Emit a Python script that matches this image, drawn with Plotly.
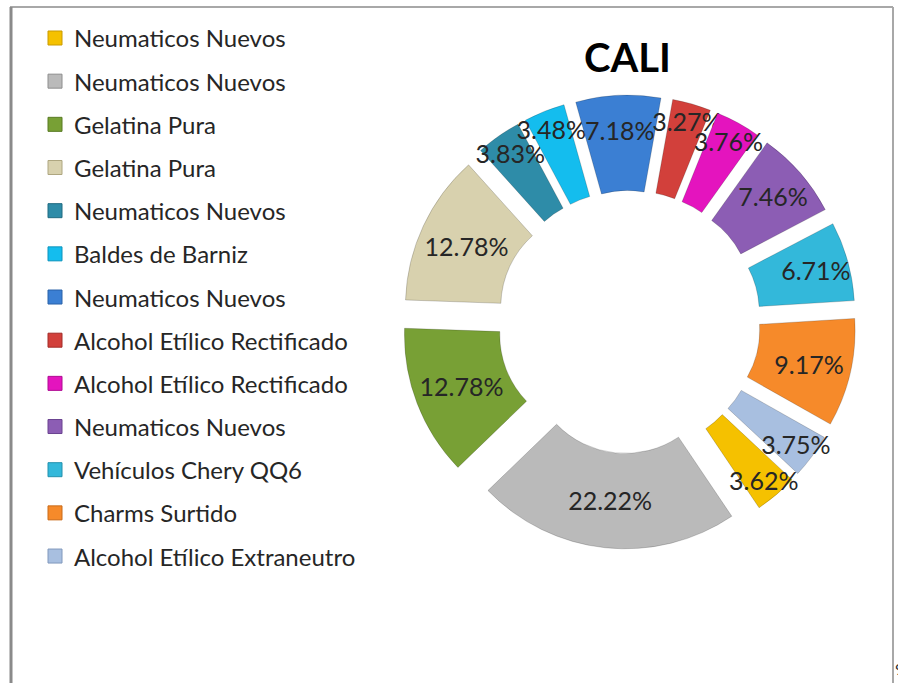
import plotly.graph_objects as go

W, H = 898, 683

categories = [
    "Neumaticos Nuevos",
    "Neumaticos Nuevos",
    "Gelatina Pura",
    "Gelatina Pura",
    "Neumaticos Nuevos",
    "Baldes de Barniz",
    "Neumaticos Nuevos",
    "Alcohol Etílico Rectificado",
    "Alcohol Etílico Rectificado",
    "Neumaticos Nuevos",
    "Vehículos Chery QQ6",
    "Charms Surtido",
    "Alcohol Etílico Extraneutro",
]
shares = [3.62, 22.22, 12.78, 12.78, 3.83, 3.48, 7.18, 3.27, 3.76, 7.46, 6.71, 9.17, 3.75]
colors = ["#F5C100", "#BABABA", "#78A035", "#D8D1AE", "#2E8CA8", "#14BDEE",
          "#3B7FD3", "#D2403B", "#E414BE", "#8C5DB4", "#33B8DA", "#F68A2A", "#A8BFE0"]
edge_colors = ["#C99A00", "#8E8E8E", "#587A22", "#AEA680", "#1F6A80", "#0C93BC",
               "#2A62A8", "#A22C28", "#B00A92", "#6A4390", "#2290AD", "#C96A18", "#8098BC"]

# unique slice ids (duplicate names would otherwise be merged by the pie)
labels = [c + "\u200b" * i for i, c in enumerate(categories)]


def px_x(v):
    return v / W


def px_y(v):
    return 1 - v / H


fig = go.Figure()
fig.add_trace(go.Pie(
    labels=labels,
    values=shares,
    sort=False,
    direction="clockwise",
    rotation=133,
    hole=0.5,
    pull=[0.19] * len(shares),
    marker=dict(colors=colors, line=dict(color="rgba(0,0,0,0.18)", width=1)),
    texttemplate="%{value:.2f}%",
    textposition="inside",
    insidetextorientation="horizontal",
    textfont=dict(family="Lato, Open Sans, sans-serif", size=25, color="#262626"),
    domain=dict(x=[px_x(402), px_x(856)], y=[px_y(549), px_y(95)]),
    showlegend=False,
    hoverinfo="label+value",
))

annotations = []
shapes = []
# custom legend built from the category and colour lists
y0, step = 38.0, 43.17
for i, (name, col, ec) in enumerate(zip(categories, colors, edge_colors)):
    yc = y0 + step * i
    shapes.append(dict(type="rect", xref="paper", yref="paper",
                       x0=px_x(48), x1=px_x(62), y0=px_y(yc + 7), y1=px_y(yc - 7),
                       fillcolor=col, line=dict(color=ec, width=1)))
    annotations.append(dict(text=name, xref="paper", yref="paper",
                            x=px_x(72), y=px_y(yc), xanchor="left", yanchor="middle",
                            showarrow=False,
                            font=dict(family="Lato, Open Sans, sans-serif", size=24, color="#262626")))

annotations.append(dict(text="<b>CALI</b>", xref="paper", yref="paper",
                        x=px_x(627), y=px_y(57), xanchor="center", yanchor="middle",
                        showarrow=False,
                        font=dict(family="Lato, Open Sans, sans-serif", size=40, color="#000000")))
annotations.append(dict(text="9", xref="paper", yref="paper",
                        x=px_x(893), y=px_y(668), xanchor="left", yanchor="middle",
                        showarrow=False,
                        font=dict(family="Lato, sans-serif", size=16, color="#333333")))

# chart frame
shapes += [
    dict(type="line", xref="paper", yref="paper", x0=px_x(10), x1=px_x(893),
         y0=px_y(7), y1=px_y(7), line=dict(color="#A8A8A8", width=2)),
    dict(type="line", xref="paper", yref="paper", x0=px_x(893), x1=px_x(893),
         y0=px_y(7), y1=px_y(683), line=dict(color="#A8A8A8", width=2)),
    dict(type="line", xref="paper", yref="paper", x0=px_x(11), x1=px_x(11),
         y0=px_y(7), y1=px_y(683), line=dict(color="#8A8A8A", width=3)),
]

fig.update_layout(
    width=W, height=H,
    margin=dict(l=0, r=0, t=0, b=0),
    paper_bgcolor="white", plot_bgcolor="white",
    uniformtext=dict(minsize=25, mode="show"),
    annotations=annotations,
    shapes=shapes,
)

fig.write_html(
    "out.html",
    config={"displayModeBar": False},
    post_script="document.body.style.margin='0px';document.body.style.overflow='hidden';",
)
